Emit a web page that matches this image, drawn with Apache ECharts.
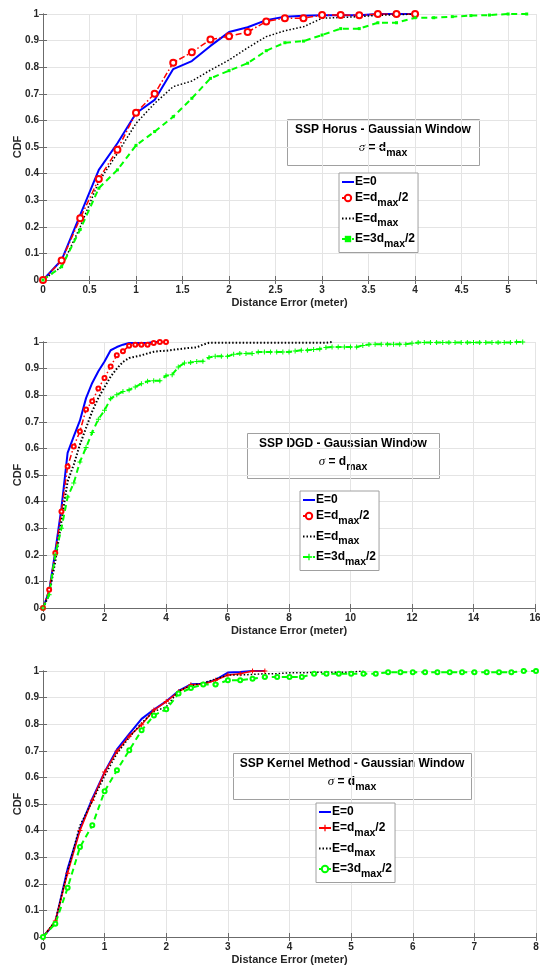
<!DOCTYPE html>
<html>
<head>
<meta charset="utf-8">
<script src="https://cdn.jsdelivr.net/npm/echarts@6/dist/echarts.min.js"></script>
<style>
  html, body { margin: 0; padding: 0; background: #fff; }
  #chart { width: 540px; height: 967px; }
</style>
</head>
<body>
<div id="chart"></div>
<script>
// Distance error sample points in meters (shared by every curve)
const distanceSteps = [
  0, 0.2, 0.4, 0.6, 0.8, 1, 1.2, 1.4, 1.6, 1.8,
  2, 2.2, 2.4, 2.6, 2.8, 3, 3.2, 3.4, 3.6, 3.8,
  4, 4.2, 4.4, 4.6, 4.8, 5, 5.2, 5.4, 5.6, 5.8,
  6, 6.2, 6.4, 6.6, 6.8, 7, 7.2, 7.4, 7.6, 7.8,
  8, 8.2, 8.4, 8.6, 8.8, 9, 9.2, 9.4, 9.6, 9.8,
  10, 10.2, 10.4, 10.6, 10.8, 11, 11.2, 11.4, 11.6, 11.8,
  12, 12.2, 12.4, 12.6, 12.8, 13, 13.2, 13.4, 13.6, 13.8,
  14, 14.2, 14.4, 14.6, 14.8, 15, 15.2, 15.4, 15.6
];

// ---- SSP Horus - Gaussian window: CDF values ----
const horusE0 = [0, 0.075, 0.245, 0.414, 0.514, 0.627, 0.677, 0.793, 0.823, 0.88,
  0.932, 0.95, 0.977, 0.99, 0.993, 0.995, 0.995, 0.995, 1, 1, 1];
const horusHalf = [0, 0.073, 0.232, 0.38, 0.49, 0.629, 0.7, 0.817, 0.856, 0.904,
  0.916, 0.932, 0.972, 0.984, 0.984, 0.996, 0.996, 0.995, 1, 1, 1];
const horusFull = [0, 0.05, 0.2, 0.37, 0.476, 0.589, 0.664, 0.727, 0.748, 0.789,
  0.827, 0.873, 0.915, 0.937, 0.952, 0.984, 0.987, 0.99, 0.995, 0.997, 1];
const horusThreeHalf = [0, 0.05, 0.19, 0.345, 0.414, 0.506, 0.558, 0.614, 0.683, 0.758,
  0.787, 0.815, 0.862, 0.892, 0.898, 0.921, 0.945, 0.945, 0.967, 0.967,
  0.986, 0.986, 0.99, 0.994, 0.996, 1, 1];

// ---- SSP DGD - Gaussian window: CDF values ----
const dgdE0 = [0, 0.063, 0.213, 0.376, 0.583, 0.645, 0.704, 0.789, 0.846, 0.89,
  0.927, 0.969, 0.981, 0.99, 0.996, 0.996, 0.996, 0.996, 1, 1];
const dgdHalf = [0, 0.069, 0.207, 0.363, 0.532, 0.607, 0.664, 0.746, 0.777, 0.825,
  0.865, 0.908, 0.95, 0.965, 0.986, 0.99, 0.99, 0.99, 0.996, 1, 1];
const dgdFull = [0, 0.05, 0.175, 0.326, 0.476, 0.539, 0.614, 0.677, 0.739, 0.79,
  0.83, 0.87, 0.9, 0.925, 0.94, 0.945, 0.95, 0.957, 0.963, 0.966,
  0.967, 0.97, 0.973, 0.976, 0.978, 0.98, 0.99, 0.997, 0.997, 0.997,
  0.997, 0.997, 0.997, 0.997, 0.997, 0.997, 0.997, 0.997, 0.997, 0.997,
  0.997, 0.997, 0.997, 0.997, 0.997, 0.997, 0.997, 1];
const dgdThreeHalf = [0, 0.05, 0.2, 0.3, 0.417, 0.47, 0.549, 0.603, 0.66, 0.71,
  0.743, 0.787, 0.802, 0.814, 0.82, 0.831, 0.843, 0.852, 0.854, 0.854,
  0.873, 0.877, 0.906, 0.921, 0.923, 0.927, 0.928, 0.942, 0.946, 0.946,
  0.946, 0.954, 0.957, 0.957, 0.957, 0.962, 0.962, 0.962, 0.962, 0.962,
  0.962, 0.966, 0.969, 0.969, 0.972, 0.974, 0.979, 0.981, 0.981, 0.981,
  0.981, 0.981, 0.987, 0.991, 0.992, 0.992, 0.992, 0.992, 0.992, 0.992,
  0.995, 0.998, 0.998, 0.998, 0.998, 0.998, 0.998, 0.998, 0.998, 0.998,
  0.998, 0.998, 0.998, 0.998, 0.998, 0.998, 0.998, 1, 1];

// ---- SSP Kernel Method - Gaussian window: CDF values ----
const kernelE0 = [0, 0.056, 0.257, 0.407, 0.52, 0.62, 0.705, 0.764, 0.82, 0.855,
  0.886, 0.925, 0.95, 0.952, 0.967, 0.994, 0.996, 1, 1];
const kernelHalf = [0, 0.06, 0.24, 0.4, 0.514, 0.62, 0.698, 0.755, 0.798, 0.853,
  0.885, 0.922, 0.948, 0.95, 0.965, 0.985, 0.99, 1, 1];
const kernelFull = [0, 0.06, 0.25, 0.42, 0.51, 0.605, 0.69, 0.75, 0.805, 0.848,
  0.865, 0.925, 0.945, 0.955, 0.97, 0.985, 0.985, 0.987, 0.99, 0.99,
  0.993, 0.993, 0.995, 0.995, 0.995, 0.996, 1];
const kernelThreeHalf = [0, 0.05, 0.185, 0.338, 0.42, 0.548, 0.627, 0.702, 0.777, 0.833,
  0.856, 0.915, 0.936, 0.949, 0.949, 0.965, 0.965, 0.971, 0.977, 0.977,
  0.977, 0.977, 0.99, 0.99, 0.99, 0.99, 0.99, 0.99, 0.995, 0.995,
  0.995, 0.995, 0.995, 0.995, 0.995, 0.995, 0.995, 0.995, 0.995, 1, 1];

// Axis ranges and tick steps
const xMaxes = [5.3, 16, 8];
const xSteps = [0.5, 2, 1];
const cdfTicks = 0.1;

// Panel captions
const panelTitles = [
  'SSP Horus - Gaussian Window',
  'SSP DGD - Gaussian Window',
  'SSP Kernel Method - Gaussian Window'
];
const xAxisTitle = 'Distance Error (meter)';
const yAxisTitle = 'CDF';

// Legend text (rich-text, with subscripts)
const legendLabels = {
  e0: '{b|E=0}',
  half: '{b|E=d}{sub|max}{b|/2}',
  full: '{b|E=d}{sub|max}',
  threeHalf: '{b|E=3d}{sub|max}{b|/2}'
};

const FONT = '"Liberation Sans", Arial, Helvetica, sans-serif';
const AXIS_COLOR = '#6b6b6b';
const GRID_COLOR = '#e4e4e4';
const LABEL_COLOR = '#262626';

const grids = [
  { left: 43, top: 14, width: 493, height: 266 },
  { left: 43, top: 342, width: 492, height: 266 },
  { left: 43, top: 671, width: 493, height: 266 }
];

const richText = {
  b: { fontFamily: FONT, fontWeight: 'bold', fontSize: 12, color: '#000' },
  sub: { fontFamily: FONT, fontWeight: 'bold', fontSize: 10.5, color: '#000', padding: [10, 0, 0, 0] },
  s: { fontFamily: '"Liberation Serif", "DejaVu Serif", serif', fontStyle: 'italic', fontSize: 13, color: '#000' }
};

const axisNameStyle = { color: LABEL_COLOR, fontFamily: FONT, fontWeight: 'bold', fontSize: 11 };
const tickLabelStyle = { color: LABEL_COLOR, fontFamily: FONT, fontWeight: 'bold', fontSize: 10 };

const xAxes = [];
const yAxes = [];
grids.forEach((g, i) => {
  xAxes.push({
    type: 'value', gridIndex: i, position: 'bottom',
    min: 0, max: xMaxes[i], interval: xSteps[i],
    axisLine: { show: true, lineStyle: { color: AXIS_COLOR, width: 1 } },
    axisTick: { show: true, inside: true, length: 4, lineStyle: { color: AXIS_COLOR } },
    axisLabel: Object.assign({ margin: 5, showMaxLabel: xMaxes[i] % xSteps[i] === 0 }, tickLabelStyle),
    splitLine: { show: true, lineStyle: { color: GRID_COLOR, width: 1 } },
    name: xAxisTitle, nameLocation: 'middle', nameGap: 17, nameMoveOverlap: false,
    nameTextStyle: axisNameStyle
  });
  yAxes.push({
    type: 'value', gridIndex: i, position: 'left',
    min: 0, max: 1, interval: cdfTicks,
    axisLine: { show: true, lineStyle: { color: AXIS_COLOR, width: 1 } },
    axisTick: { show: true, inside: true, length: 4, lineStyle: { color: AXIS_COLOR } },
    axisLabel: Object.assign({ margin: 4 }, tickLabelStyle),
    splitLine: { show: true, lineStyle: { color: GRID_COLOR, width: 1 } },
    name: yAxisTitle, nameLocation: 'middle', nameGap: 20, nameMoveOverlap: false,
    nameTextStyle: axisNameStyle
  });
});
// Box frame: top and right axes with inward ticks
grids.forEach((g, i) => {
  xAxes.push({
    type: 'value', gridIndex: i, position: 'top',
    min: 0, max: xMaxes[i], interval: xSteps[i],
    axisLine: { show: true, lineStyle: { color: AXIS_COLOR, width: 1 } },
    axisTick: { show: true, inside: true, length: 4, lineStyle: { color: AXIS_COLOR } },
    axisLabel: { show: false }, splitLine: { show: false }
  });
  yAxes.push({
    type: 'value', gridIndex: i, position: 'right',
    min: 0, max: 1, interval: cdfTicks,
    axisLine: { show: true, lineStyle: { color: AXIS_COLOR, width: 1 } },
    axisTick: { show: true, inside: true, length: 4, lineStyle: { color: AXIS_COLOR } },
    axisLabel: { show: false }, splitLine: { show: false }
  });
});

function curve(name, panel, values, look) {
  return Object.assign({
    type: 'line', name,
    xAxisIndex: panel, yAxisIndex: panel,
    data: values.map((v, k) => [distanceSteps[k], v]),
    animation: false, symbol: 'none', z: 3
  }, look);
}

const BLUE = '#0000ff', RED = '#ff0000', BLACK = '#000000', GREEN = '#00ff00';
const PLUS = 'path://M4,0H6V4H10V6H6V10H4V6H0V4H4Z';
const dashDot = [6, 2.5, 1.5, 2.5];
const dotted = [1.5, 2];
const dashed = [6, 4];

const series = [
  // Horus
  curve('horus-e0', 0, horusE0, { lineStyle: { color: BLUE, width: 2 }, itemStyle: { color: BLUE } }),
  curve('horus-half', 0, horusHalf, { lineStyle: { color: RED, width: 1.5, type: dashDot },
    symbol: 'emptyCircle', symbolSize: 6, itemStyle: { color: RED, borderColor: RED, borderWidth: 1.5 } }),
  curve('horus-full', 0, horusFull, { lineStyle: { color: BLACK, width: 1.5, type: dotted }, itemStyle: { color: BLACK } }),
  curve('horus-threeHalf', 0, horusThreeHalf, { lineStyle: { color: GREEN, width: 2, type: dashed },
    symbol: 'rect', symbolSize: 3, itemStyle: { color: GREEN } }),
  // DGD
  curve('dgd-e0', 1, dgdE0, { lineStyle: { color: BLUE, width: 2 }, itemStyle: { color: BLUE } }),
  curve('dgd-half', 1, dgdHalf, { lineStyle: { color: RED, width: 1.5, type: dashDot },
    symbol: 'emptyCircle', symbolSize: 4, itemStyle: { color: RED, borderColor: RED, borderWidth: 1.5 } }),
  curve('dgd-full', 1, dgdFull, { lineStyle: { color: BLACK, width: 2, type: dotted }, itemStyle: { color: BLACK } }),
  curve('dgd-threeHalf', 1, dgdThreeHalf, { lineStyle: { color: GREEN, width: 2, type: dashed },
    symbol: PLUS, symbolSize: 5, itemStyle: { color: GREEN } }),
  // Kernel method
  curve('kernel-e0', 2, kernelE0, { lineStyle: { color: BLUE, width: 2 }, itemStyle: { color: BLUE } }),
  curve('kernel-half', 2, kernelHalf, { lineStyle: { color: RED, width: 1.5 },
    symbol: PLUS, symbolSize: 5, itemStyle: { color: RED } }),
  curve('kernel-full', 2, kernelFull, { lineStyle: { color: BLACK, width: 1.5, type: dotted }, itemStyle: { color: BLACK } }),
  curve('kernel-threeHalf', 2, kernelThreeHalf, { lineStyle: { color: GREEN, width: 2, type: dashed },
    symbol: 'emptyCircle', symbolSize: 4, itemStyle: { color: GREEN, borderColor: GREEN, borderWidth: 1.5 } })
];

// Curves drawn without markers get a plain line sample in the legend
const plainLineKeys = ['e0', 'full'];

function legendFor(prefix, left, top) {
  return {
    data: ['e0', 'half', 'full', 'threeHalf'].map(k => {
      const item = { name: prefix + '-' + k };
      if (plainLineKeys.includes(k)) item.itemStyle = { opacity: 0 };
      return item;
    }),
    orient: 'vertical', left, top,
    selectedMode: false,
    backgroundColor: '#fff', borderColor: '#a0a0a0', borderWidth: 1,
    padding: [3, 3, 3, 2], itemGap: 4, itemWidth: 12, itemHeight: 8,
    formatter: name => legendLabels[name.split('-')[1]],
    textStyle: { fontFamily: FONT, fontWeight: 'bold', fontSize: 12, color: '#000', padding: [0, 0, 0, -4], rich: richText }
  };
}

function noteBox(x, y, w, h, title) {
  return {
    type: 'group', z: 10,
    children: [
      { type: 'rect', shape: { x: x + 0.5, y: y + 0.5, width: w, height: h },
        style: { fill: '#fff', stroke: '#a0a0a0', lineWidth: 1 } },
      { type: 'text', x: x + w / 2, y: y + 11,
        style: { text: title, font: 'bold 12px ' + FONT, fill: '#000', align: 'center', verticalAlign: 'middle' } },
      { type: 'text', x: x + w / 2, y: y + 29,
        style: { text: '{s|σ}{b| = d}{sub|max}', rich: richText, align: 'center', verticalAlign: 'middle' } }
    ]
  };
}

const chart = echarts.init(document.getElementById('chart'), null, { renderer: 'canvas' });
chart.setOption({
  backgroundColor: '#fff',
  animation: false,
  grid: grids.map(g => Object.assign({ outerBoundsMode: 'none', containLabel: false }, g)),
  xAxis: xAxes,
  yAxis: yAxes,
  legend: [
    legendFor('horus', 339, 173),
    legendFor('dgd', 300, 491),
    legendFor('kernel', 316, 803)
  ],
  series,
  graphic: [
    noteBox(287, 119, 192, 46, panelTitles[0]),
    noteBox(247, 433, 192, 45, panelTitles[1]),
    noteBox(233, 753, 238, 46, panelTitles[2])
  ]
});
</script>
</body>
</html>
